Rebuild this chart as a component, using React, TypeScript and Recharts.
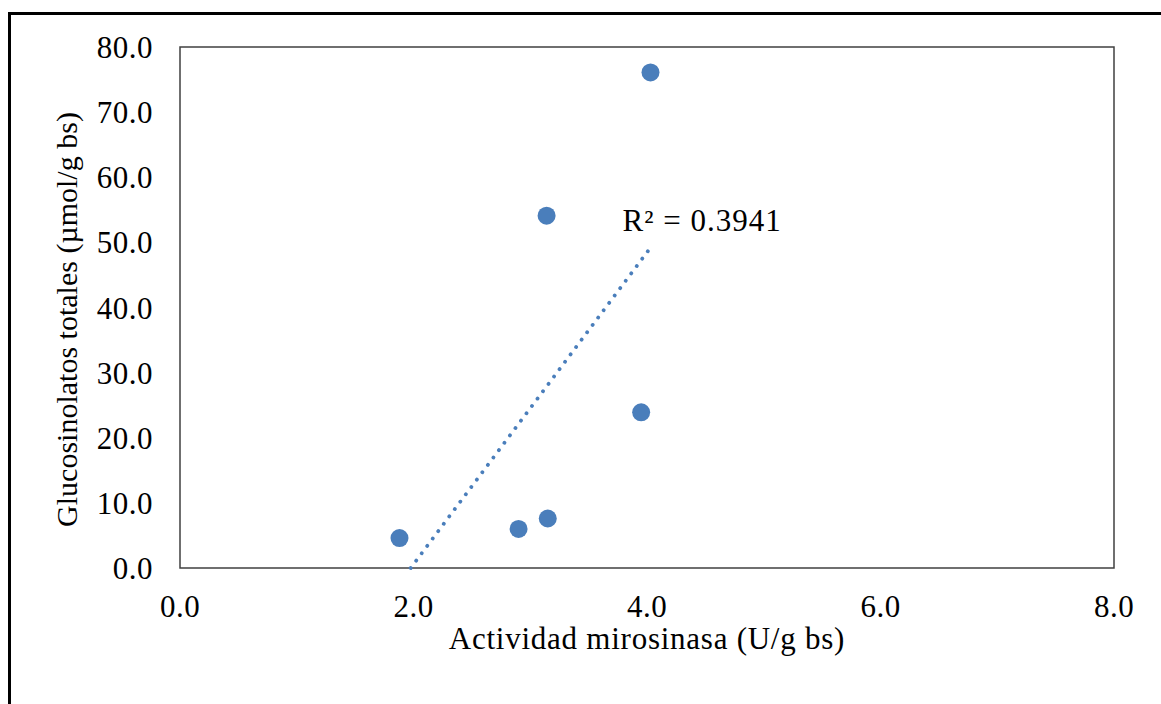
import React from "react";
import { ReferenceArea, ReferenceDot, Scatter, ScatterChart, XAxis, YAxis } from "recharts";

// Actividad mirosinasa (U/g bs) vs glucosinolatos totales (µmol/g bs)
const activity = [1.88, 2.9, 3.15, 3.14, 3.95, 4.03];
const glucosinolates = [4.6, 6.0, 7.6, 54.1, 23.9, 76.1];

const xTicks = [0, 2, 4, 6, 8];
const yTicks = [0, 10, 20, 30, 40, 50, 60, 70, 80];

const xTitle = "Actividad mirosinasa (U/g bs)";
const yTitle = "Glucosinolatos totales (µmol/g bs)";
const r2Label = "R² = 0.3941";

const FONT = '"Liberation Serif", "Times New Roman", serif';
const BLUE = "#4a7ebb";

const points = activity.map((x, i) => ({ x, y: glucosinolates[i] }));

// linear least-squares trend, clipped at y = 0 like Excel does on the axis
function trend() {
  const n = activity.length;
  const mx = activity.reduce((a, b) => a + b, 0) / n;
  const my = glucosinolates.reduce((a, b) => a + b, 0) / n;
  let sxy = 0;
  let sxx = 0;
  activity.forEach((x, i) => {
    sxy += (x - mx) * (glucosinolates[i] - my);
    sxx += (x - mx) * (x - mx);
  });
  const slope = sxy / sxx;
  const icpt = my - slope * mx;
  const x0 = Math.max(Math.min(...activity), -icpt / slope);
  const x1 = Math.max(...activity);
  return [
    { x: x0, y: slope * x0 + icpt },
    { x: x1, y: slope * x1 + icpt },
  ];
}

const trendPts = trend();

const YTitle = ({ viewBox }: any) => {
  const cx = 66;
  const cy = viewBox.y + viewBox.height / 2 + 12;
  return (
    <text
      x={cx}
      y={cy}
      transform={`rotate(-90 ${cx} ${cy})`}
      textAnchor="middle"
      dominantBaseline="central"
      fontFamily={FONT}
      fontSize={30}
      fill="#000"
    >
      {yTitle}
    </text>
  );
};

const R2 = ({ viewBox }: any) => (
  <text x={viewBox.x} y={viewBox.y} fontFamily={FONT} fontSize={31} letterSpacing={1} fill="#000">
    {r2Label}
  </text>
);

export default function App() {
  return (
    <div style={{ position: "absolute", left: 0, top: 0, width: 1161, height: 704, overflow: "hidden", background: "#fff" }}>
      <div
        style={{
          position: "absolute",
          left: 8,
          top: 12,
          width: 1153,
          height: 692,
          boxSizing: "border-box",
          borderTop: "3px solid #000",
          borderLeft: "3px solid #000",
        }}
      />
      <div style={{ position: "absolute", left: 0, top: 0 }}>
        <ScatterChart width={1161} height={704} margin={{ top: 47, right: 47, bottom: 55, left: 0 }}>
          <XAxis
            type="number"
            dataKey="x"
            domain={[0, 8]}
            ticks={xTicks}
            tickFormatter={(v: number) => v.toFixed(1)}
            axisLine={false}
            tickLine={false}
            tickSize={0}
            tickMargin={27}
            height={81}
            tick={{ fill: "#000", fontSize: 31, fontFamily: FONT, letterSpacing: 0.5 }}
            label={{ value: xTitle, position: "insideBottom", offset: 0, fill: "#000", fontSize: 31, fontFamily: FONT, letterSpacing: 0.75 }}
          />
          <YAxis
            type="number"
            dataKey="y"
            domain={[0, 80]}
            ticks={yTicks}
            tickFormatter={(v: number) => v.toFixed(1)}
            axisLine={false}
            tickLine={false}
            tickSize={0}
            tickMargin={27}
            width={180}
            tick={{ fill: "#000", fontSize: 31, fontFamily: FONT, letterSpacing: 0.5 }}
            label={{ content: YTitle }}
          />
          <ReferenceArea x1={0} x2={8} y1={0} y2={80} fill="none" stroke="#404040" strokeWidth={1.5} />
          <Scatter data={points} fill={BLUE} shape={(p: any) => <circle cx={p.cx} cy={p.cy} r={9} fill={BLUE} />} isAnimationActive={false} />
          <Scatter
            data={trendPts}
            line={{ stroke: BLUE, strokeWidth: 3.8, strokeDasharray: "0.1 9.1", strokeLinecap: "round" }}
            shape={() => <g />}
            legendType="none"
            isAnimationActive={false}
          />
          <ReferenceDot x={3.79} y={51.8} r={0} fill="none" stroke="none" label={{ content: R2 }} />
        </ScatterChart>
      </div>
    </div>
  );
}
